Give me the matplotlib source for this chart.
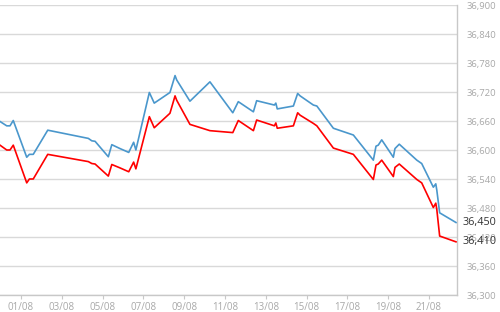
import matplotlib
matplotlib.use("Agg")
import matplotlib.pyplot as plt
import numpy as np

# days since 01/08 00:00
days = [-1.03, -0.70, -0.54, -0.38, 0.28, 0.41, 0.60, 1.31, 3.30, 3.47,
        3.63, 4.28, 4.45, 4.85, 5.28, 5.52, 5.63, 6.29, 6.53, 7.30,
        7.55, 7.63, 8.28, 9.26, 10.38, 10.65, 11.39, 11.55, 12.42, 12.49,
        12.56, 13.35, 13.56, 13.68, 14.33, 14.50, 15.31, 16.29, 17.27, 17.40,
        17.51, 17.68, 18.25, 18.33, 18.54, 19.40, 19.64, 20.21, 20.33, 20.38,
        20.52, 21.32]

blue = [36659, 36650, 36650, 36661, 36585, 36591, 36591, 36641, 36624, 36619,
        36618, 36586, 36611, 36603, 36595, 36616, 36600, 36719, 36697, 36719,
        36754, 36745, 36701, 36741, 36677, 36700, 36679, 36702, 36693, 36697,
        36685, 36691, 36717, 36712, 36693, 36691, 36645, 36631, 36579, 36608,
        36610, 36621, 36585, 36603, 36612, 36579, 36572, 36523, 36530, 36517,
        36470, 36450]

red = [36610, 36600, 36600, 36610, 36532, 36540, 36540, 36591, 36576, 36572,
       36571, 36546, 36570, 36563, 36555, 36575, 36561, 36669, 36646, 36676,
       36712, 36703, 36653, 36640, 36636, 36661, 36640, 36662, 36650, 36656,
       36645, 36650, 36677, 36672, 36655, 36650, 36604, 36591, 36539, 36569,
       36571, 36579, 36545, 36564, 36571, 36539, 36532, 36481, 36490, 36477,
       36422, 36410]

x_ticks = [0, 2, 4, 6, 8, 10, 12, 14, 16, 18, 20]
x_labels = ["01/08", "03/08", "05/08", "07/08", "09/08", "11/08",
            "13/08", "15/08", "17/08", "19/08", "21/08"]
y_ticks = np.arange(36300, 36901, 60)

plt.rcParams["font.family"] = ["Open Sans", "DejaVu Sans"]

fig = plt.figure(figsize=(5, 3.12), dpi=100)
ax = fig.add_axes([0, 1 - 295 / 312, 457 / 500, 290 / 312])

ax.plot(days, blue, color="#4a97cc", lw=1.2, zorder=3)
ax.plot(days, red, color="#ff0000", lw=1.2, zorder=3)

ax.set_xlim(-1.03, 21.37)
ax.set_ylim(36300, 36900)

ax.set_yticks(y_ticks)
ax.set_yticklabels([f"{v:,}" for v in y_ticks])
ax.yaxis.tick_right()
ax.tick_params(axis="y", length=0, pad=7, labelsize=6.8, labelcolor="#a8a8a8")
ax.set_xticks(x_ticks)
ax.set_xticklabels(x_labels)
ax.tick_params(axis="x", length=3, width=0.8, color="#c8c8c8", pad=2,
               labelsize=7, labelcolor="#a8a8a8")

ax.grid(axis="y", color="#d9d9d9", lw=1)
ax.set_axisbelow(True)
for side in ("left", "top"):
    ax.spines[side].set_visible(False)
for side in ("right", "bottom"):
    ax.spines[side].set_color("#c8c8c8")
    ax.spines[side].set_linewidth(1)

# last-value labels
for val in (blue[-1], red[-1]):
    ax.annotate(f"{val:,}", xy=(1, val), xycoords=("axes fraction", "data"),
                xytext=(4, 0), textcoords="offset points", va="center",
                ha="left", fontsize=7.8, color="#333333", annotation_clip=False)

fig.savefig("out.png", dpi=100)
